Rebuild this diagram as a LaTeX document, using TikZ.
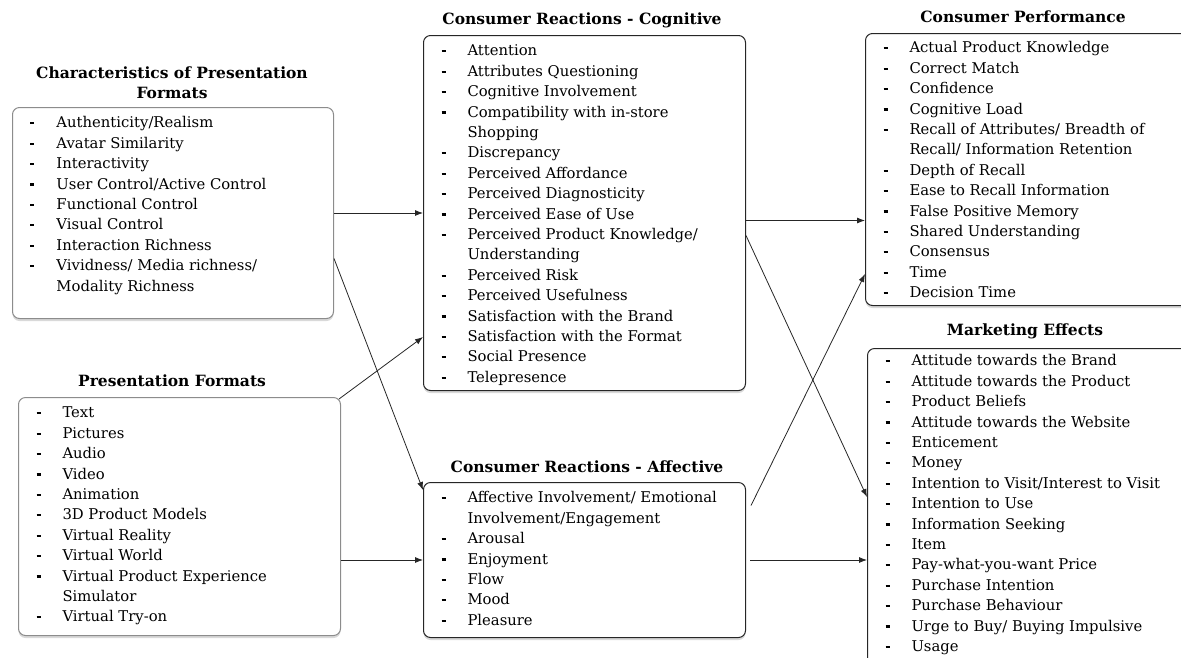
\documentclass[tikz,border=0pt]{standalone}
\usepackage{fontspec}
\setmainfont{DejaVu Serif}
\usepackage{tikz}
\usetikzlibrary{arrows.meta, positioning, shadows}

% small square dash used as list bullet
\newcommand{\bmark}{\rule[3.5pt]{4pt}{2.2pt}}
\newcommand{\itm}[1]{\par\hangindent=44pt\hangafter=1\noindent\makebox[44pt][l]{\hspace{18pt}\bmark}#1}
\newcommand{\boxlist}[3]{\parbox[t][#2][t]{#1}{\raggedright\fontsize{14.8}{20.4}\selectfont\mbox{}#3}}

\tikzset{
    listbox/.style={draw=black!85, line width=1pt, rounded corners=7pt, fill=white, inner sep=0pt, anchor=north west,
        drop shadow={shadow xshift=0pt, shadow yshift=-2.5pt, opacity=0.3}},
    greybox/.style={listbox, draw=black!45},
    heading/.style={font=\fontsize{15.5}{20}\selectfont\bfseries, align=center},
    conn/.style={-{Latex[length=8pt,width=6pt]}, line width=0.8pt, black!85}
}

\begin{document}
\begin{tikzpicture}[x=1pt, y=-1pt, text=black]
        \useasboundingbox (0,0) rectangle (1181,657);
        \clip (0,0) rectangle (1181,657);

        % Headings
        \node[heading] (chrT) at (172,83) {Characteristics of Presentation\\Formats};
        \node[heading] (pfT) at (172,381) {Presentation Formats};
        \node[heading] (cogT) at (582,20) {Consumer Reactions - Cognitive};
        \node[heading] (affT) at (587,467) {Consumer Reactions - Affective};
        \node[heading] (perfT) at (1023,17) {Consumer Performance};
        \node[heading] (mktT) at (1025,331) {Marketing Effects};

        % Left column
        \node[greybox] (chr) at (12,107) {\boxlist{321pt}{211pt}{%
            \itm{Authenticity/Realism}
            \itm{Avatar Similarity}
            \itm{Interactivity}
            \itm{User Control/Active Control}
            \itm{Functional Control}
            \itm{Visual Control}
            \itm{Interaction Richness}
            \itm{Vividness/ Media richness/\newline Modality Richness}}};

        \node[greybox] (pf) at (18,397) {\boxlist{322pt}{238pt}{%
            \itm{Text}
            \itm{Pictures}
            \itm{Audio}
            \itm{Video}
            \itm{Animation}
            \itm{3D Product Models}
            \itm{Virtual Reality}
            \itm{Virtual World}
            \itm{Virtual Product Experience\newline Simulator}
            \itm{Virtual Try-on}}};

        % Consumer reactions
        \node[listbox] (cog) at (423,35) {\boxlist{322pt}{355pt}{%
            \itm{Attention}
            \itm{Attributes Questioning}
            \itm{Cognitive Involvement}
            \itm{Compatibility with in-store\newline Shopping}
            \itm{Discrepancy}
            \itm{Perceived Affordance}
            \itm{Perceived Diagnosticity}
            \itm{Perceived Ease of Use}
            \itm{Perceived Product Knowledge/\newline Understanding}
            \itm{Perceived Risk}
            \itm{Perceived Usefulness}
            \itm{Satisfaction with the Brand}
            \itm{Satisfaction with the Format}
            \itm{Social Presence}
            \itm{Telepresence}}};

        \node[listbox] (aff) at (423,482) {\boxlist{322pt}{155pt}{%
            \itm{Affective Involvement/ Emotional\newline Involvement/Engagement}
            \itm{Arousal}
            \itm{Enjoyment}
            \itm{Flow}
            \itm{Mood}
            \itm{Pleasure}}};

        % Outcomes
        \node[listbox] (perf) at (865,33) {\boxlist{330pt}{272pt}{\vspace{-1pt}%
            \itm{Actual Product Knowledge}
            \itm{Correct Match}
            \itm{Confidence}
            \itm{Cognitive Load}
            \itm{Recall of Attributes/ Breadth of\newline Recall/ Information Retention}
            \itm{Depth of Recall}
            \itm{Ease to Recall Information}
            \itm{False Positive Memory}
            \itm{Shared Understanding}
            \itm{Consensus}
            \itm{Time}
            \itm{Decision Time}}};

        \node[listbox] (mkt) at (867,348) {\boxlist{330pt}{330pt}{\vspace{-3pt}%
            \itm{Attitude towards the Brand}
            \itm{Attitude towards the Product}
            \itm{Product Beliefs}
            \itm{Attitude towards the Website}
            \itm{Enticement}
            \itm{Money}
            \itm{Intention to Visit/Interest to Visit}
            \itm{Intention to Use}
            \itm{Information Seeking}
            \itm{Item}
            \itm{Pay-what-you-want Price}
            \itm{Purchase Intention}
            \itm{Purchase Behaviour}
            \itm{Urge to Buy/ Buying Impulsive}
            \itm{Usage}}};

        % Arrows
        \coordinate (cogA) at ([yshift=-7.5pt]cog.east);
        \coordinate (affA) at ([xshift=4pt]aff.east);

        \draw[conn] (chr.east) -- (chr.east -| cog.west);
        \draw[conn] ([yshift=-45.5pt]chr.east) -- ([yshift=-8pt]aff.north west);
        \draw[conn] ([xshift=-2pt,yshift=-2pt]pf.north east) -- ([yshift=54pt]cog.south west);
        \draw[conn] (pf.east |- aff.west) -- (aff.west);

        \draw[conn] (cogA) -- (cogA -| perf.west);
        \draw[conn] ([yshift=-22.5pt]cog.east) -- ([yshift=-149pt]mkt.north west);
        \draw[conn] ([xshift=5pt,yshift=54.5pt]aff.east) -- ([yshift=32pt]perf.south west);
        \draw[conn] (affA) -- (affA -| mkt.west);

    \end{tikzpicture}
\end{document}
